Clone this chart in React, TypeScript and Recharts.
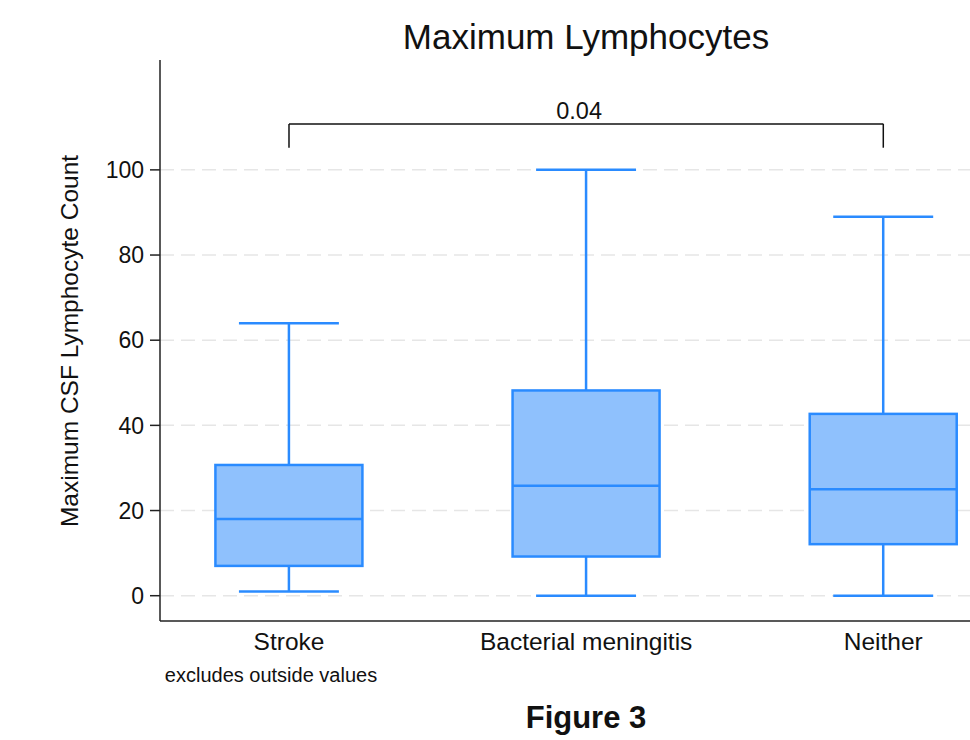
import { Bar, CartesianGrid, ComposedChart, ReferenceLine, XAxis, YAxis } from 'recharts'

const groups = ['Stroke', 'Bacterial meningitis', 'Neither']
const positions = [1, 2, 3]
const lowerWhisker = [1, 0, 0]
const q1 = [7, 9.2, 12.1]
const median = [18, 25.8, 25]
const q3 = [30.7, 48.2, 42.7]
const upperWhisker = [64, 100, 89]

const yTicks = [0, 20, 40, 60, 80, 100]

// p-value bracket between two groups
const bracketFrom = 1
const bracketTo = 3
const bracketTop = 110.8
const bracketBottom = 105.2
const bracketLabel = '0.04'

const data = groups.map((name, i) => ({
  name,
  pos: positions[i],
  range: [lowerWhisker[i], upperWhisker[i]],
  low: lowerWhisker[i],
  q1: q1[i],
  median: median[i],
  q3: q3[i],
  high: upperWhisker[i],
}))

const FONT = '"Liberation Sans", Arial, Helvetica, sans-serif'
const BOX_STROKE = '#2a8bff'
const BOX_FILL = '#8fc1fd'

interface BoxShapeProps {
  x?: number
  y?: number
  width?: number
  height?: number
  payload?: (typeof data)[number]
}

function BoxShape({ x = 0, y = 0, width = 0, height = 0, payload }: BoxShapeProps) {
  if (!payload) return null
  const top = Math.min(y, y + height)
  const bottom = Math.max(y, y + height)
  const span = payload.high - payload.low
  const py = (v: number) => bottom - ((v - payload.low) / span) * (bottom - top)
  const cx = x + width / 2
  const capHalf = width * 0.34
  const yQ1 = py(payload.q1)
  const yQ3 = py(payload.q3)
  const yMed = py(payload.median)
  const sw = 2.5
  return (
    <g>
      <line x1={cx} x2={cx} y1={top} y2={yQ3} stroke={BOX_STROKE} strokeWidth={sw} />
      <line x1={cx} x2={cx} y1={yQ1} y2={bottom} stroke={BOX_STROKE} strokeWidth={sw} />
      <line x1={cx - capHalf} x2={cx + capHalf} y1={top} y2={top} stroke={BOX_STROKE} strokeWidth={sw} />
      <line x1={cx - capHalf} x2={cx + capHalf} y1={bottom} y2={bottom} stroke={BOX_STROKE} strokeWidth={sw} />
      <rect x={x} y={yQ3} width={width} height={yQ1 - yQ3} fill={BOX_FILL} stroke={BOX_STROKE} strokeWidth={sw} />
      <line x1={x} x2={x + width} y1={yMed} y2={yMed} stroke={BOX_STROKE} strokeWidth={sw} />
    </g>
  )
}

export default function App() {
  return (
    <div
      style={{
        position: 'absolute',
        left: 0,
        top: 0,
        width: 970,
        height: 740,
        background: '#fff',
        fontFamily: FONT,
        color: '#111',
        overflow: 'hidden',
      }}
    >
      <div
        style={{
          position: 'absolute',
          left: 586,
          top: 37,
          transform: 'translate(-50%, -50%)',
          fontSize: 35,
          whiteSpace: 'nowrap',
        }}
      >
        Maximum Lymphocytes
      </div>
      <div
        style={{
          position: 'absolute',
          left: 70,
          top: 341,
          transform: 'translate(-50%, -50%) rotate(-90deg)',
          fontSize: 24.5,
          whiteSpace: 'nowrap',
        }}
      >
        Maximum CSF Lymphocyte Count
      </div>
      <div
        style={{
          position: 'absolute',
          left: 271,
          top: 675,
          transform: 'translate(-50%, -50%)',
          fontSize: 20,
          whiteSpace: 'nowrap',
        }}
      >
        excludes outside values
      </div>
      <div
        style={{
          position: 'absolute',
          left: 586,
          top: 718,
          transform: 'translate(-50%, -50%)',
          fontSize: 31,
          fontWeight: 'bold',
          whiteSpace: 'nowrap',
        }}
      >
        Figure 3
      </div>
      <div style={{ position: 'absolute', left: 0, top: 0 }}>
        <ComposedChart
          width={970}
          height={740}
          data={data}
          margin={{ top: 60, right: 0, left: 100, bottom: 79 }}
        >
          <CartesianGrid
            vertical={false}
            horizontalValues={yTicks}
            stroke="#e6e6e6"
            strokeWidth={1.5}
            strokeDasharray="14 7"
          />
          <XAxis
            dataKey="pos"
            type="number"
            domain={[0.5659, 3.2918]}
            allowDataOverflow
            ticks={positions}
            tickFormatter={(v: number) => groups[positions.indexOf(v)] ?? ''}
            tickLine={false}
            tickSize={6}
            tickMargin={6}
            height={40}
            axisLine={{ stroke: '#222', strokeWidth: 1.5 }}
            tick={{ fill: '#111', fontSize: 24.5, fontFamily: FONT }}
          />
          <YAxis
            type="number"
            domain={[-5.94, 125.8]}
            allowDataOverflow
            ticks={yTicks}
            width={60}
            tickSize={10}
            tickMargin={6}
            axisLine={{ stroke: '#222', strokeWidth: 1.5 }}
            tickLine={{ stroke: '#222', strokeWidth: 1.5 }}
            tick={{ fill: '#111', fontSize: 23, fontFamily: FONT }}
          />
          <Bar
            dataKey="range"
            barSize={147}
            shape={(props: BoxShapeProps) => <BoxShape {...props} />}
            isAnimationActive={false}
          />
          <ReferenceLine
            segment={[
              { x: bracketFrom, y: bracketTop },
              { x: bracketTo, y: bracketTop },
            ]}
            stroke="#111"
            strokeWidth={1.5}
            label={{ value: bracketLabel, position: 'top', offset: 5, fill: '#111', fontSize: 23.5, fontFamily: FONT, dx: -7 }}
          />
          <ReferenceLine
            segment={[
              { x: bracketFrom, y: bracketTop },
              { x: bracketFrom, y: bracketBottom },
            ]}
            stroke="#111"
            strokeWidth={1.5}
          />
          <ReferenceLine
            segment={[
              { x: bracketTo, y: bracketTop },
              { x: bracketTo, y: bracketBottom },
            ]}
            stroke="#111"
            strokeWidth={1.5}
          />
        </ComposedChart>
      </div>
    </div>
  )
}
